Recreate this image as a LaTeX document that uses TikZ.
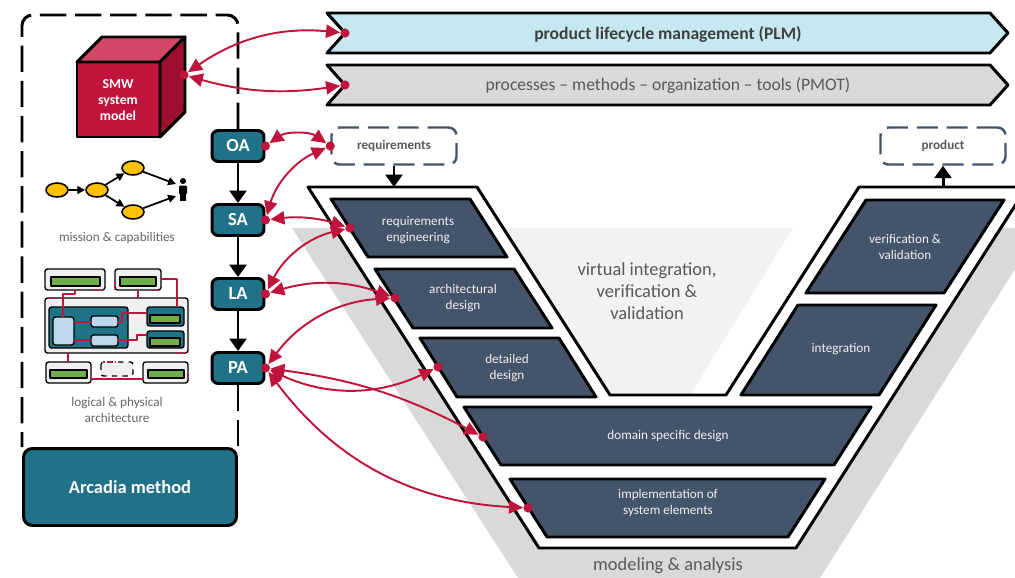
\documentclass[tikz,border=0pt]{standalone}
\usepackage{fontspec}
\setmainfont{Carlito}
\usetikzlibrary{arrows.meta,shapes.geometric}
\definecolor{arcteal}{RGB}{31,114,135}
\definecolor{smwred}{RGB}{192,20,60}
\definecolor{smwtop}{RGB}{210,72,102}
\definecolor{smwside}{RGB}{158,14,46}
\definecolor{vslate}{RGB}{68,84,106}
\definecolor{plmblue}{RGB}{197,232,241}
\definecolor{midgray}{RGB}{217,217,217}
\definecolor{paleband}{RGB}{242,242,242}
\definecolor{textgray}{RGB}{89,89,89}
\definecolor{darktext}{RGB}{64,64,64}
\definecolor{capyellow}{RGB}{255,192,0}
\definecolor{archgreen}{RGB}{112,173,71}
\definecolor{archblue}{RGB}{189,215,238}

\begin{document}
\begin{tikzpicture}[x=0.02cm,y=-0.02cm,line join=round]
    \tikzstyle{phase}=[rectangle,rounded corners=3.5pt,fill=arcteal,draw=black,line width=1.7pt,minimum width=1.04cm,minimum height=0.62cm,text=white,font=\fontsize{10.5}{12}\selectfont\bfseries]
    \tikzstyle{method}=[rectangle,rounded corners=5pt,fill=arcteal,draw=black,line width=1.7pt,minimum width=4.26cm,minimum height=1.54cm,text=white,font=\fontsize{10.5}{12}\selectfont\bfseries]
    \tikzstyle{methodframe}=[draw=black,line width=1.7pt,dash pattern=on 15pt off 5pt,rounded corners=6pt]
    \tikzstyle{flow}=[draw=black,line width=1.7pt,-{Triangle[length=7pt,width=9.5pt]}]
    \tikzstyle{link}=[draw=smwred,line width=1.1pt,{Triangle[length=8pt,width=7.5pt]}-{Triangle[length=8pt,width=7.5pt]},shorten <=2.8pt,shorten >=2.8pt]
    \tikzstyle{banner}=[draw=black,line width=1.7pt]
    \tikzstyle{dashbox}=[rectangle,rounded corners=4.5pt,draw=vslate,line width=1.4pt,dash pattern=on 12pt off 5pt,minimum height=0.74cm,text=textgray,font=\fontsize{7.5}{9}\selectfont\bfseries]
    \tikzstyle{vband}=[fill=vslate,draw=black,line width=1.7pt]
    \tikzstyle{vlabel}=[text=white!94!black,align=center,font=\fontsize{7.5}{9}\selectfont]
    \tikzstyle{biglabel}=[text=textgray,align=center,font=\fontsize{10.5}{12.5}\selectfont]
    \tikzstyle{iconlabel}=[text=black!60,align=center,font=\fontsize{7.5}{9}\selectfont]
    \tikzstyle{capab}=[ellipse,fill=capyellow,draw=black,line width=0.9pt,minimum width=0.44cm,minimum height=0.28cm,inner sep=0pt]
    \tikzstyle{capflow}=[draw=black,line width=1pt,-{Triangle[length=4.5pt,width=4.5pt]}]
    \tikzstyle{unitbox}=[fill=black!6,draw=black,line width=0.8pt,rounded corners=1.5pt]
    \tikzstyle{greenbar}=[fill=archgreen,draw=black,line width=0.8pt]
    \tikzstyle{partbox}=[fill=archblue,draw=black,line width=0.8pt,rounded corners=1.5pt]
    \tikzstyle{tealblock}=[fill=arcteal,draw=black,line width=0.8pt,rounded corners=1.5pt]
    \tikzstyle{wire}=[draw=smwred,line width=1pt]
    \tikzstyle{portmark}=[draw=smwred,line width=1.3pt,dash pattern=on 1.4pt off 0.8pt]

    \useasboundingbox (0,0) rectangle (1015,578);
    \clip (0,0) rectangle (1015,578);

    % modeling & analysis band and the virtual V&V wedge behind the V
    \fill[midgray] (292,228) -- (503,228) -- (610,395) -- (726,395) -- (833,228)
        -- (1041,228) -- (820,578) -- (518,578) -- cycle;
    \fill[paleband] (480,228) -- (793,228) -- (690,395) -- (600,395) -- cycle;

    % the V itself
    \path[fill=white,draw=black,line width=1.7pt] (308,187) -- (477,187) -- (610,395) -- (726,395)
        -- (859,187) -- (1027,187) -- (796,548) -- (539,548) -- cycle;

    % left arm
    \path[vband] (331,199) -- (470,199) -- (507,257) -- (368,257) -- cycle;
    \node[vlabel] (reqeng) at (418,230) {requirements\\engineering};
    \path[vband] (375,269) -- (514,269) -- (552,328) -- (413,328) -- cycle;
    \node[vlabel] (arch) at (463,298) {architectural\\design};
    \path[vband] (420,338) -- (559,338) -- (596,397) -- (457,397) -- cycle;
    \node[vlabel] (detail) at (507,368) {detailed\\design};
    % bottom
    \path[vband] (464,407) -- (871,407) -- (834,465) -- (501,465) -- cycle;
    \node[vlabel] (domain) at (668,436) {domain specific design};
    \path[vband] (510,479) -- (825,479) -- (788,537) -- (547,537) -- cycle;
    \node[vlabel] (impl) at (668,503) {implementation of\\system elements};
    % right arm
    \path[vband] (866,200) -- (1004,200) -- (944,293) -- (806,293) -- cycle;
    \node[vlabel] (vandv) at (905,247) {verification \&\\validation};
    \path[vband] (798,305) -- (936,305) -- (879,395) -- (741,395) -- cycle;
    \node[vlabel] (integ) at (841,349) {integration};

    \coordinate (reqeng-port) at (350,228);
    \coordinate (arch-port) at (395,298);
    \coordinate (detail-port) at (438,367);
    \coordinate (domain-port) at (483,437);
    \coordinate (impl-port) at (528,508);

    \node[biglabel] (virtual) at (647,291) {virtual integration,\\verification \&\\validation};
    \node[biglabel] (modeling) at (668,566) {modeling \& analysis};

    % PLM and PMOT banners
    \path[banner,fill=plmblue] (327,13) -- (990,13) -- (1008,33) -- (990,53) -- (327,53) -- (345,33) -- cycle;
    \node[text=darktext,font=\fontsize{10}{12}\selectfont\bfseries] (plm) at (668,34) {product lifecycle management (PLM)};
    \path[banner,fill=midgray] (327,65) -- (990,65) -- (1008,85) -- (990,105) -- (327,105) -- (345,85) -- cycle;
    \node[text=textgray,font=\fontsize{10}{12}\selectfont] (pmot) at (668,86) {processes -- methods -- organization -- tools (PMOT)};
    \coordinate (plm-port) at (345,33);
    \coordinate (pmot-port) at (345,85);

    % input and output of the V
    \node[dashbox,minimum width=2.5cm] (req) at (394,146) {requirements};
    \node[dashbox,minimum width=2.5cm] (prod) at (943,146) {product};
    \coordinate (v-in) at (394,187);
    \coordinate (v-out) at (943,187);
    \draw[flow] (req) -- (v-in);
    \draw[flow] (v-out) -- (prod);

    % Arcadia phases
    \node[phase] (OA) at (238,146) {OA};
    \node[phase] (SA) at (238,220) {SA};
    \node[phase] (LA) at (238,294) {LA};
    \node[phase] (PA) at (238,368) {PA};
    \foreach \a/\b in {OA/SA,SA/LA,LA/PA}
        \draw[flow] (\a) -- (\b);

    \draw[methodframe] (OA.north) -- (238,15) -- (22,15) -- (22,447);
    \draw[methodframe] (PA.south) -- (238,447);
    \node[method] (arcadia) at (130,487) {Arcadia method};

    % SMW system model cube
    \filldraw[fill=smwred,line width=1.7pt] (77,62) rectangle (160,137);
    \filldraw[fill=smwtop,line width=1.7pt] (77,62) -- (102,37) -- (185,37) -- (160,62) -- cycle;
    \filldraw[fill=smwside,line width=1.7pt] (160,62) -- (185,37) -- (185,112) -- (160,137) -- cycle;
    \node[text=white,align=center,font=\fontsize{7.8}{9}\selectfont\bfseries] (smw) at (118,100) {SMW\\system\\model};
    \coordinate (smw-port) at (184,75);

    % mission & capabilities icon
    \node[capab] (cap1) at (57,190) {};
    \node[capab] (cap2) at (97,190) {};
    \node[capab] (cap3) at (133,168) {};
    \node[capab] (cap4) at (133,212) {};
    \coordinate (actor-a) at (176,184);
    \coordinate (actor-b) at (176,196);
    \fill (183,181) circle (1.7pt);
    \fill[rounded corners=0.6pt] (179,185.5) rectangle (187,194.5);
    \fill (180.2,193) rectangle (182.7,201);
    \fill (183.3,193) rectangle (185.8,201);
    \draw[capflow] (cap1) -- (cap2);
    \draw[capflow] (cap2) -- (cap3);
    \draw[capflow] (cap2) -- (cap4);
    \draw[capflow] (cap3) -- (actor-a);
    \draw[capflow] (cap4) -- (actor-b);
    \node[iconlabel] (missionlbl) at (117,238) {mission \& capabilities};

    % logical & physical architecture icon
    \path[unitbox] (45,269) rectangle (105,290);
    \path[greenbar] (51,277) rectangle (100,286);
    \path[unitbox] (115,269) rectangle (161,290);
    \path[greenbar] (120,277) rectangle (156,286);
    \path[unitbox] (45,298) rectangle (188,353);
    \path[tealblock] (49,307) rectangle (128,348);
    \path[partbox] (53,317) rectangle (74,345);
    \path[partbox] (91,316) rectangle (118,327);
    \path[partbox] (91,335) rectangle (118,346);
    \path[tealblock] (147,307) rectangle (184,326);
    \path[greenbar] (150,315) rectangle (180,323);
    \path[tealblock] (147,331) rectangle (184,348);
    \path[greenbar] (150,338) rectangle (180,346);
    \path[unitbox] (46,362) rectangle (91,383);
    \path[greenbar] (50,370) rectangle (87,378);
    \path[unitbox,dashed] (101,362) rectangle (133,376);
    \path[unitbox] (143,362) rectangle (188,383);
    \path[greenbar] (148,370) rectangle (184,378);
    \draw[wire] (75,290) -- (75,294) -- (63,294) -- (63,317);
    \draw[wire] (138,290) -- (138,298);
    \draw[wire] (161,279) -- (177,279) -- (177,307);
    \draw[wire] (74,322) -- (91,322);
    \draw[wire] (74,340) -- (91,340);
    \draw[wire] (118,322) -- (122,322) -- (122,313) -- (147,313);
    \draw[wire] (118,340) -- (137,340) -- (137,335) -- (147,335);
    \draw[wire] (68,353) -- (68,362);
    \draw[wire] (91,379) -- (143,379);
    \draw[portmark] (93,290) -- (104,290);
    \draw[portmark] (115,281) -- (115,289);
    \draw[portmark] (152,290) -- (159,290);
    \draw[portmark] (48,298) -- (55,298);
    \draw[portmark] (176,353) -- (186,353);
    \draw[portmark] (103,362) -- (115,362);
    \draw[portmark] (188,374) -- (188,381);
    \node[iconlabel] (archlbl) at (117,410) {logical \& physical\\architecture};

    % traceability links
    \draw[link] (smw-port) to[bend left=20] (plm-port);
    \draw[link] (smw-port) to[bend right=12] (pmot-port);
    \draw[link] (OA.east) to[bend left=35] (req.west);
    \draw[link] (SA.east) to[bend left=25] (req.west);
    \draw[link] (SA.east) to[bend left=12] (reqeng-port);
    \draw[link] (LA.east) to[bend left=25] (reqeng-port);
    \draw[link] (LA.east) to[bend left=18] (arch-port);
    \draw[link] (PA.east) to[bend left=25] (arch-port);
    \draw[link] (PA.east) to[bend right=25] (detail-port);
    \draw[link] (PA.east) to[bend left=10] (domain-port);
    \draw[link] (PA.east) to[bend right=25] (impl-port);
    \foreach \p in {smw-port,plm-port,pmot-port,OA.east,SA.east,LA.east,PA.east,req.west,
                    reqeng-port,arch-port,detail-port,domain-port,impl-port}
        \fill[smwred] (\p) circle (2.6pt);
\end{tikzpicture}
\end{document}
